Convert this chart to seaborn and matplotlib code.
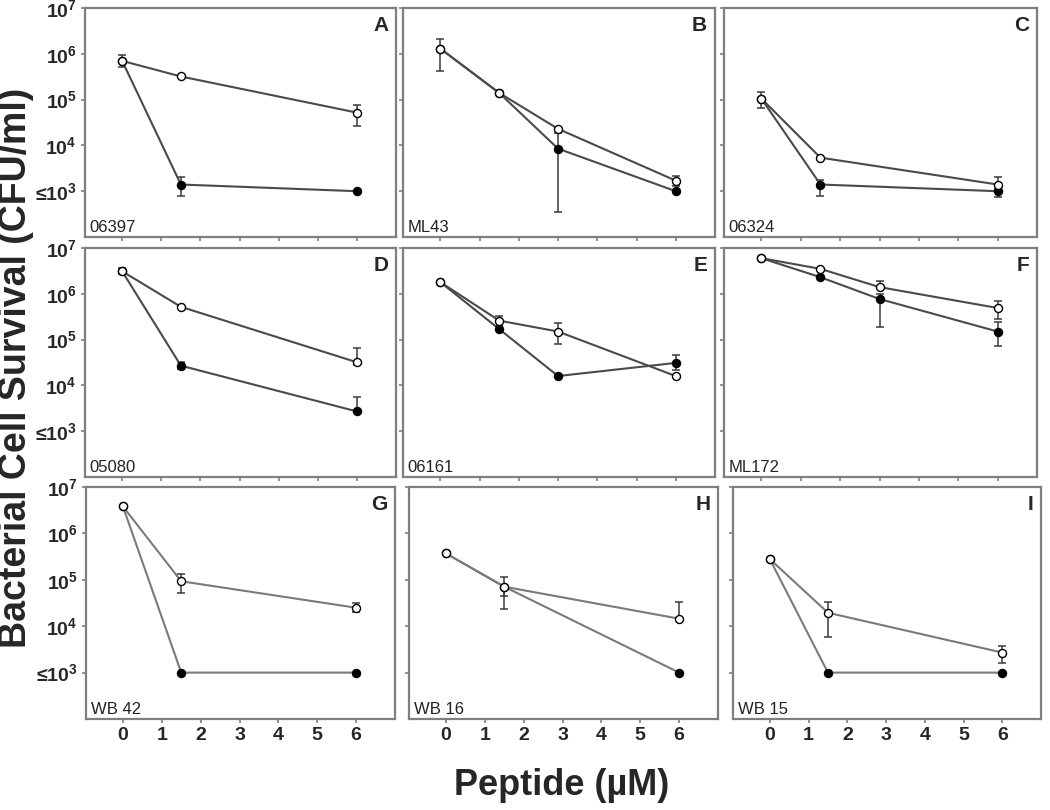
import numpy as np
import matplotlib
matplotlib.use("Agg")
import matplotlib.pyplot as plt
import seaborn as sns

# -----------------------------
# Data (CFU/ml)
# -----------------------------
panels = ["A", "B", "C", "D", "E", "F", "G", "H", "I"]
strains = ["06397", "ML43", "06324", "05080", "06161", "ML172", "WB 42", "WB 16", "WB 15"]

peptide = [
    [0, 1.5, 6], [0, 1.5, 3, 6], [0, 1.5, 6],
    [0, 1.5, 6], [0, 1.5, 3, 6], [0, 1.5, 3, 6],
    [0, 1.5, 6], [0, 1.5, 6], [0, 1.5, 6],
]

# open circles
open_cfu = [
    [7e5, 3.2e5, 5.2e4], [1.3e6, 1.4e5, 2.3e4, 1.7e3], [1.05e5, 5.4e3, 1.4e3],
    [3.1e6, 5.2e5, 3.2e4], [1.8e6, 2.6e5, 1.5e5, 1.6e4], [6e6, 3.5e6, 1.4e6, 4.9e5],
    [3.8e6, 9.3e4, 2.5e4], [3.7e5, 7.1e4, 1.45e4], [2.8e5, 1.95e4, 2.7e3],
]
open_low = [
    [5.2e5, 3.2e5, 2.6e4], [1.3e6, 1.4e5, 2.3e4, 1.3e3], [1.05e5, 5.4e3, 1.1e3],
    [2.7e6, 5.2e5, 2.8e4], [1.8e6, 2.0e5, 8e4, 1.6e4], [6e6, 3.5e6, 1.4e6, 2.8e5],
    [3.8e6, 5.2e4, 2e4], [3.7e5, 4.4e4, 1.45e4], [2.8e5, 5.9e3, 1.6e3],
]
open_high = [
    [9.5e5, 3.2e5, 7.8e4], [2.1e6, 1.4e5, 2.3e4, 2.2e3], [1.05e5, 5.4e3, 2e3],
    [3.6e6, 5.2e5, 6.6e4], [1.8e6, 3.3e5, 2.3e5, 1.6e4], [6e6, 3.5e6, 1.9e6, 7.1e5],
    [3.8e6, 1.35e5, 3.1e4], [3.7e5, 1.17e5, 3.4e4], [2.8e5, 3.4e4, 3.7e3],
]

# filled circles
filled_cfu = [
    [7e5, 1.4e3, 1e3], [1.3e6, 1.4e5, 8.5e3, 1e3], [1.05e5, 1.4e3, 1e3],
    [3.1e6, 2.7e4, 2.7e3], [1.8e6, 1.7e5, 1.6e4, 3.1e4], [6e6, 2.3e6, 7.7e5, 1.5e5],
    [3.8e6, 1e3, 1e3], [3.7e5, 7.1e4, 1e3], [2.8e5, 1e3, 1e3],
]
filled_low = [
    [7e5, 7.9e2, 1e3], [4.2e5, 1.4e5, 3.5e2, 1e3], [6.6e4, 7.9e2, 7.4e2],
    [3.1e6, 2.3e4, 2.7e3], [1.8e6, 1.7e5, 1.6e4, 2.2e4], [6e6, 2.3e6, 1.9e5, 7.2e4],
    [3.8e6, 1e3, 1e3], [3.7e5, 2.4e4, 1e3], [2.8e5, 1e3, 1e3],
]
filled_high = [
    [7e5, 2e3, 1e3], [1.3e6, 1.4e5, 1.9e4, 1e3], [1.5e5, 1.8e3, 1e3],
    [3.1e6, 3.2e4, 5.6e3], [1.8e6, 1.7e5, 1.6e4, 4.5e4], [6e6, 2.3e6, 1e6, 2.4e5],
    [3.8e6, 1e3, 1e3], [3.7e5, 7.1e4, 1e3], [2.8e5, 1e3, 1e3],
]

y_ticks = [1e3, 1e4, 1e5, 1e6, 1e7]
y_ticklabels = ["≤$\\mathbf{10^{3}}$", "$\\mathbf{10^{4}}$", "$\\mathbf{10^{5}}$",
                "$\\mathbf{10^{6}}$", "$\\mathbf{10^{7}}$"]
x_ticks = [0, 1, 2, 3, 4, 5, 6]

# -----------------------------
# Style
# -----------------------------
sns.set_style("ticks")
plt.rcParams["font.family"] = ["Liberation Sans", "DejaVu Sans"]
plt.rcParams["mathtext.fontset"] = "custom"
plt.rcParams["mathtext.rm"] = "Liberation Sans"
plt.rcParams["mathtext.bf"] = "Liberation Sans:bold"

W, H = 1050, 810
fig = plt.figure(figsize=(W / 100, H / 100), dpi=100)

# panel boxes in pixels (left, top, right, bottom)
boxes = [
    (85, 8, 396, 237), (403, 8, 715, 237), (724, 8, 1037, 237),
    (85, 248, 396, 477), (403, 248, 715, 477), (724, 248, 1037, 477),
    (86, 487, 395, 719), (409, 487, 718, 719), (733, 487, 1041, 719),
]

for i, (l, t, r, b) in enumerate(boxes):
    ax = fig.add_axes([l / W, 1 - b / H, (r - l) / W, (b - t) / H])
    x = np.array(peptide[i])
    line_col = "#7a7a7a" if i >= 6 else "#4a4a4a"

    for mean, lo, hi, face in [(filled_cfu[i], filled_low[i], filled_high[i], "black"),
                               (open_cfu[i], open_low[i], open_high[i], "white")]:
        mean, lo, hi = np.array(mean), np.array(lo), np.array(hi)
        ax.errorbar(x, mean, yerr=[mean - lo, hi - mean], fmt="none",
                    ecolor="#3a3a3a", elinewidth=1.1, capsize=2.8, capthick=1.1, zorder=2)
        sns.lineplot(x=x, y=mean, ax=ax, color=line_col, lw=1.5, marker="o",
                     markersize=5.8, markerfacecolor=face, markeredgecolor="black",
                     markeredgewidth=1.0, zorder=3)

    ax.set_yscale("log")
    ax.set_ylim(1e2, 1e7)
    ax.set_xlim(-0.95, 7.0)
    ax.set_yticks(y_ticks)
    ax.minorticks_off()
    ax.set_xticks(x_ticks)
    if i % 3 == 0:
        ax.set_yticklabels(y_ticklabels, fontsize=14, fontweight="bold")
    else:
        ax.set_yticklabels([])
    if i >= 6:
        ax.set_xticklabels([str(v) for v in x_ticks], fontsize=14, fontweight="bold")
    else:
        ax.set_xticklabels([])
    ax.tick_params(direction="out", length=3, width=1.2, color="#7f7f7f", pad=3)
    for s in ax.spines.values():
        s.set_color("#7f7f7f")
        s.set_linewidth(1.6)
    ax.set_xlabel("")
    ax.set_ylabel("")

    ax.text(0.975, 0.965, panels[i], transform=ax.transAxes, ha="right", va="top",
            fontsize=15, fontweight="bold")
    ax.text(0.015, 0.01, strains[i], transform=ax.transAxes, ha="left", va="bottom",
            fontsize=12, color="#222222")

fig.text(16 / W, 1 - 368 / H, "Bacterial Cell Survival (CFU/ml)", rotation=90,
         ha="center", va="center", fontsize=27, fontweight="bold")
fig.text(562 / W, 1 - 795 / H, "Peptide (µM)", ha="center", va="baseline",
         fontsize=26, fontweight="bold")

plt.savefig("out.png", dpi=100)
